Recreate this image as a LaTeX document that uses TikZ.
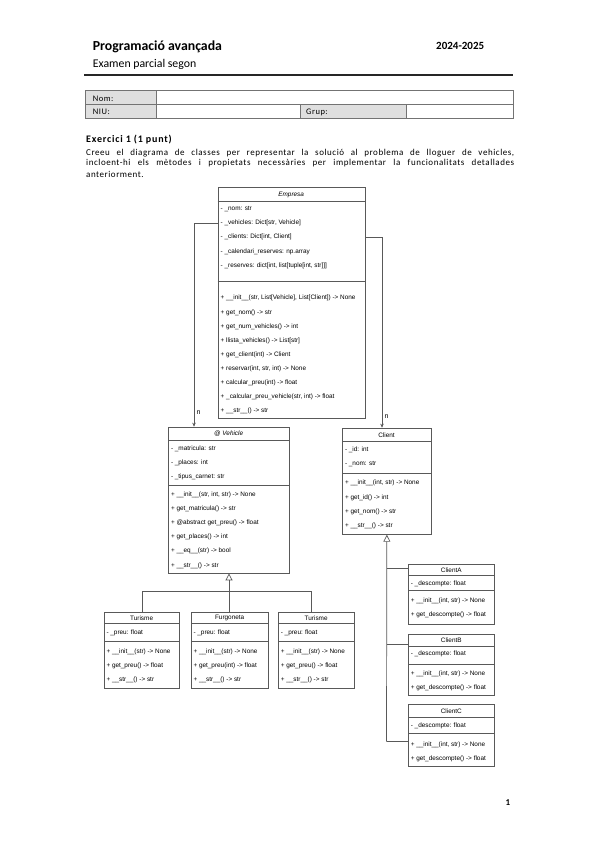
\documentclass[tikz,border=0pt]{standalone}
\usepackage{fontspec}
\setmainfont{Carlito}
\newfontfamily\diag{Liberation Sans}
\usetikzlibrary{arrows.meta}
\newcommand{\dfont}{\diag\fontsize{6.4}{7.5}\selectfont}
\newcommand{\spc}{\addfontfeature{LetterSpace=6}}
\begin{document}
\begin{tikzpicture}[x=1pt,y=-1pt,
  cls/.style={draw=black!65, line width=0.7pt, inner sep=0, anchor=north west, fill=white},
  ttl/.style={font=\dfont, inner sep=0},
  row/.style={font=\dfont, inner sep=0, anchor=west},
  sep/.style={draw=black!65, line width=0.7pt},
  link/.style={draw=black!65, line width=0.7pt},
  assoc/.style={link, -{Stealth[length=4pt,width=3.5pt]}},
  inh/.style={link, -{Triangle[open,length=7pt,width=7pt]}},
  tbl/.style={draw=black!55, line width=0.8pt},
  tlab/.style={font=\fontsize{8.5}{10}\selectfont\spc, inner sep=0, anchor=west},
  body/.style={font=\fontsize{9}{11}\selectfont\spc, inner sep=0, anchor=west}
]
\useasboundingbox (0,0) rectangle (599,848);

% ---------- header ----------
\node[font=\bfseries\fontsize{13.8}{16}\selectfont, inner sep=0, anchor=west] (hd1) at (92.7,47.3) {Programació avançada};
\node[font=\fontsize{11.8}{14}\selectfont, inner sep=0, anchor=west] (hd2) at (92.7,64.3) {Examen parcial segon};
\node[font=\bfseries\fontsize{11}{13}\selectfont, inner sep=0, anchor=west] (hd3) at (436,46) {2024-2025};
\draw[line width=2.2pt, black!85] (84,75) -- (513,75);

% ---------- table ----------
\fill[gray!25] (85,90.7) rectangle (156.7,118.7);
\fill[gray!25] (300,104.7) rectangle (406,118.7);
\draw[tbl] (85,90.7) rectangle (513,118.7);
\draw[tbl] (85,104.7) -- (513,104.7);
\draw[tbl] (156.7,90.7) -- (156.7,118.7);
\draw[tbl] (300,104.7) -- (300,118.7);
\draw[tbl] (406,104.7) -- (406,118.7);
\node[tlab] (tnom) at (92.7,98.5) {Nom:};
\node[tlab] (tniu) at (92.7,112) {NIU:};
\node[tlab] (tgrup) at (306,112) {Grup:};

% ---------- exercise text ----------
\node[font=\bfseries\fontsize{10}{12}\selectfont\addfontfeature{LetterSpace=8}, inner sep=0, anchor=west] (ex) at (86,140) {Exercici 1 (1 punt)};
\node[body] (b1) at (86,153.3) {\makebox[428pt][s]{Creeu el diagrama de classes per representar la solució al problema de lloguer de vehicles,}};
\node[body] (b2) at (86,163.6) {\makebox[428pt][s]{incloent-hi els mètodes i propietats necessàries per implementar la funcionalitats detallades}};
\node[body] (b3) at (86,174) {anteriorment.};

% ---------- Empresa ----------
\node[cls, minimum width=147pt, minimum height=230.7pt] (emp) at (217.7,187.3) {};
\draw[sep] (217.7,201) -- (364.7,201);
\draw[sep] (217.7,281.7) -- (364.7,281.7);
\node[ttl] (empT) at (291.2,195) {\textit{Empresa}};
\foreach \y/\t [count=\i] in {
  209/{- \_nom: str},
  223.3/{- \_vehicles: Dict[str, Vehicle]},
  237.3/{- \_clients: Dict[int, Client]},
  251.5/{- \_calendari\_reserves: np.array},
  265.5/{- \_reserves: dict[int, list[tuple[int, str]]]},
  298.3/{+ \_\_init\_\_(str, List[Vehicle], List[Client]) -> None},
  312.5/{+ get\_nom() -> str},
  326.6/{+ get\_num\_vehicles() -> int},
  340.7/{+ llista\_vehicles() -> List[str]},
  354.8/{+ get\_client(int) -> Client},
  368.9/{+ reservar(int, str, int) -> None},
  383/{+ calcular\_preu(int) -> float},
  397.1/{+ \_calcular\_preu\_vehicle(str, int) -> float},
  411.2/{+ \_\_str\_\_() -> str}}
  \node[row] (ea\i) at (220.5,\y) {\t};

% ---------- Vehicle ----------
\node[cls, minimum width=120.7pt, minimum height=146pt] (veh) at (168.3,426.7) {};
\draw[sep] (168.3,440.7) -- (289,440.7);
\draw[sep] (168.3,485.3) -- (289,485.3);
\node[ttl] (vehT) at (228.65,434) {\textit{@ Vehicle}};
\foreach \y/\t [count=\i] in {
  449/{- \_matricula: str},
  462.8/{- \_places: int},
  476.7/{- \_tipus\_carnet: str},
  495.3/{+ \_\_init\_\_(str, int, str) -> None},
  509.3/{+ get\_matricula() -> str},
  523.3/{+ @abstract get\_preu() -> float},
  537.3/{+ get\_places() -> int},
  551.3/{+ \_\_eq\_\_(str) -> bool},
  565.6/{+ \_\_str\_\_() -> str}}
  \node[row] (va\i) at (170.8,\y) {\t};

% ---------- Client ----------
\node[cls, minimum width=88.4pt, minimum height=106.3pt] (cl) at (342.3,427.7) {};
\draw[sep] (342.3,441.7) -- (430.7,441.7);
\draw[sep] (342.3,473.3) -- (430.7,473.3);
\node[ttl] (clT) at (386.5,435.5) {Client};
\foreach \y/\t [count=\i] in {
  450/{- \_id: int},
  464/{- \_nom: str},
  483.3/{+ \_\_init\_\_(int, str) -> None},
  497.5/{+ get\_id() -> int},
  511.5/{+ get\_nom() -> str},
  525.6/{+ \_\_str\_\_() -> str}}
  \node[row] (ca\i) at (344.8,\y) {\t};

% ---------- Turisme / Furgoneta / Turisme ----------
\node[cls, minimum width=75.3pt, minimum height=76pt] (tur1) at (104,611.7) {};
\node[cls, minimum width=77.3pt, minimum height=76pt] (furg) at (191,611.7) {};
\node[cls, minimum width=75.7pt, minimum height=76pt] (tur2) at (278.3,611.7) {};
\draw[sep] (104,623.3) -- (179.3,623.3);
\draw[sep] (104,641.7) -- (179.3,641.7);
\draw[sep] (191,623.3) -- (268.3,623.3);
\draw[sep] (191,641.7) -- (268.3,641.7);
\draw[sep] (278.3,623.3) -- (354,623.3);
\draw[sep] (278.3,641.7) -- (354,641.7);
\node[ttl] (tur1T) at (141.65,618) {Turisme};
\node[ttl] (furgT) at (229.65,618) {Furgoneta};
\node[ttl] (tur2T) at (316.15,618) {Turisme};
\foreach \y/\t [count=\i] in {
  633.3/{- \_preu: float},
  652.3/{+ \_\_init\_\_(str) -> None},
  666.3/{+ get\_preu() -> float},
  680.3/{+ \_\_str\_\_() -> str}}
  \node[row] (ta\i) at (106.3,\y) {\t};
\foreach \y/\t [count=\i] in {
  633.3/{- \_preu: float},
  652.3/{+ \_\_init\_\_(str) -> None},
  666.3/{+ get\_preu(int) -> float},
  680.3/{+ \_\_str\_\_() -> str}}
  \node[row] (fa\i) at (193.3,\y) {\t};
\foreach \y/\t [count=\i] in {
  633.3/{- \_preu: float},
  652.3/{+ \_\_init\_\_(str) -> None},
  666.3/{+ get\_preu() -> float},
  680.3/{+ \_\_str\_\_() -> str}}
  \node[row] (tb\i) at (280.6,\y) {\t};

% ---------- ClientA / B / C ----------
\node[cls, minimum width=86pt, minimum height=60.3pt] (clA) at (408.3,564) {};
\node[cls, minimum width=86pt, minimum height=61pt] (clB) at (408.3,634) {};
\node[cls, minimum width=86pt, minimum height=62pt] (clC) at (408.3,704) {};
\draw[sep] (408.3,575.7) -- (494.3,575.7);
\draw[sep] (408.3,590.7) -- (494.3,590.7);
\draw[sep] (408.3,646.7) -- (494.3,646.7);
\draw[sep] (408.3,664) -- (494.3,664);
\draw[sep] (408.3,717.3) -- (494.3,717.3);
\draw[sep] (408.3,733.3) -- (494.3,733.3);
\node[ttl] (clAT) at (451.3,570) {ClientA};
\node[ttl] (clBT) at (451.3,640.7) {ClientB};
\node[ttl] (clCT) at (451.3,711.2) {ClientC};
\node[row] (da1) at (410.6,583.5) {- \_descompte: float};
\node[row] (da2) at (410.6,601) {+ \_\_init\_\_(int, str) -> None};
\node[row] (da3) at (410.6,614.8) {+ get\_descompte() -> float};
\node[row] (db1) at (410.6,654.3) {- \_descompte: float};
\node[row] (db2) at (410.6,674) {+ \_\_init\_\_(int, str) -> None};
\node[row] (db3) at (410.6,688) {+ get\_descompte() -> float};
\node[row] (dc1) at (410.6,725.5) {- \_descompte: float};
\node[row] (dc2) at (410.6,745) {+ \_\_init\_\_(int, str) -> None};
\node[row] (dc3) at (410.6,758.6) {+ get\_descompte() -> float};

% ---------- associations ----------
\coordinate (vtop) at (194,426.7);
\coordinate (ctop) at (382,427.7);
\draw[assoc] (emp.west |- ea2) -| (vtop);
\draw[assoc] (emp.east |- ea3) -| (ctop);
\node[font=\diag\fontsize{7}{8}\selectfont, inner sep=0] (n1) at (198.5,413) {n};
\node[font=\diag\fontsize{7}{8}\selectfont, inner sep=0] (n2) at (386.5,417) {n};

% ---------- inheritance Vehicle ----------
\coordinate (vbus) at (228.65,591.7);
\coordinate (t2in) at (311,611.7);
\draw[link] (tur1.north) |- (vbus) -| (t2in);
\draw[inh] (veh.south |- furg.north) -- (veh.south);

% ---------- inheritance Client ----------
\coordinate (cend) at (386.5,741.7);
\coordinate (jA) at (386.5,568.3);
\coordinate (jB) at (386.5,644.3);
\draw[inh] (cend) -- (cl.south);
\draw[link] (jA) -- (clA.west |- jA);
\draw[link] (jB) -- (clB.west |- jB);
\draw[link] (cend) -- (clC.west |- cend);

% ---------- page number ----------
\node[font=\bfseries\fontsize{9}{10}\selectfont, inner sep=0] (pg) at (508,803) {1};
\end{tikzpicture}
\end{document}
